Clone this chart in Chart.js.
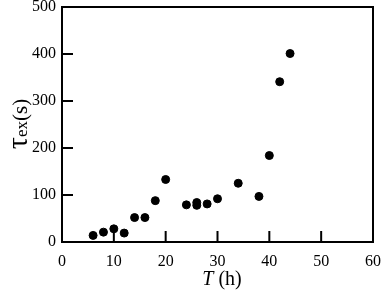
<!DOCTYPE html>
<html>
<head>
<meta charset="utf-8">
<script src="https://cdn.jsdelivr.net/npm/chart.js@4"></script>
<style>
  html, body { margin: 0; padding: 0; background: #fff; }
  #wrap { width: 382px; height: 294px; }
</style>
</head>
<body>
<div id="wrap"><canvas id="myChart" width="382" height="294"></canvas></div>
<script>
// data
const hours = [6, 8, 10, 12, 14, 16, 18, 20, 24, 26, 26, 28, 30, 34, 38, 40, 42, 44];
const tauEx = [14, 21, 28, 19, 52, 52, 88, 133, 79, 84, 78, 81, 92, 125, 97, 184, 341, 401];
const xTicks = [0, 10, 20, 30, 40, 50, 60];
const yTicks = [0, 100, 200, 300, 400, 500];

const serif = '"Liberation Serif", "DejaVu Serif", serif';

// frame, inward ticks and the two axis titles
const framePlugin = {
    id: 'frame',
    afterDraw(chart) {
        const c = chart.ctx;
        const a = chart.chartArea;
        const xs = chart.scales.x;
        const ys = chart.scales.y;
        c.save();
        c.strokeStyle = '#000';
        c.lineWidth = 2;
        c.strokeRect(a.left, a.top, a.right - a.left, a.bottom - a.top);
        c.beginPath();
        xs.ticks.forEach(t => {
            const px = xs.getPixelForValue(t.value);
            c.moveTo(px, a.bottom);
            c.lineTo(px, a.bottom - 11);
        });
        ys.ticks.forEach(t => {
            const py = ys.getPixelForValue(t.value);
            c.moveTo(a.left, py);
            c.lineTo(a.left + 11, py);
        });
        c.stroke();

        // x title: T (h)
        c.fillStyle = '#000';
        c.textBaseline = 'alphabetic';
        c.textAlign = 'left';
        const italic = 'italic 20px ' + serif;
        const normal = '20px ' + serif;
        c.font = italic;
        const wT = c.measureText('T').width;
        c.font = normal;
        const wH = c.measureText(' (h)').width;
        let x0 = 222 - (wT + wH) / 2;
        c.font = italic;
        c.fillText('T', x0, 285);
        c.font = normal;
        c.fillText(' (h)', x0 + wT, 285);

        // y title: tau_ex (s)
        c.translate(27, 124);
        c.rotate(-Math.PI / 2);
        const parts = [
            { t: 'τ', f: '30px ' + serif, dy: 0 },
            { t: 'ex', f: '17px ' + serif, dy: 0 },
            { t: '(s)', f: '21px ' + serif, dy: 0 }
        ];
        let total = 0;
        parts.forEach(p => { c.font = p.f; p.w = c.measureText(p.t).width; total += p.w; });
        let px = -total / 2;
        parts.forEach(p => {
            c.font = p.f;
            c.fillText(p.t, px, p.dy);
            px += p.w;
        });
        c.restore();
    }
};

const ctx = document.getElementById('myChart').getContext('2d');

const myChart = new Chart(ctx, {
    type: 'scatter',
    data: {
        datasets: [{
            data: hours.map((h, i) => ({ x: h, y: tauEx[i] })),
            backgroundColor: '#000',
            borderColor: '#000',
            pointRadius: 4,
            pointHoverRadius: 4
        }]
    },
    options: {
        responsive: false,
        animation: false,
        layout: { padding: 0 },
        plugins: {
            legend: { display: false },
            tooltip: { enabled: false }
        },
        scales: {
            x: {
                type: 'linear',
                min: 0,
                max: 60,
                afterFit: s => { s.height = 52; s.paddingRight = 9; },
                afterBuildTicks: s => { s.ticks = xTicks.map(v => ({ value: v })); },
                grid: { display: false, drawTicks: false },
                border: { display: false },
                ticks: {
                    color: '#000',
                    padding: 10,
                    maxRotation: 0,
                    font: { family: serif, size: 16 }
                }
            },
            y: {
                min: 0,
                max: 500,
                afterFit: s => { s.width = 62; s.paddingTop = 7; },
                afterBuildTicks: s => { s.ticks = yTicks.map(v => ({ value: v })); },
                grid: { display: false, drawTicks: false },
                border: { display: false },
                ticks: {
                    color: '#000',
                    padding: 6,
                    font: { family: serif, size: 16 }
                }
            }
        }
    },
    plugins: [framePlugin]
});
</script>
</body>
</html>
